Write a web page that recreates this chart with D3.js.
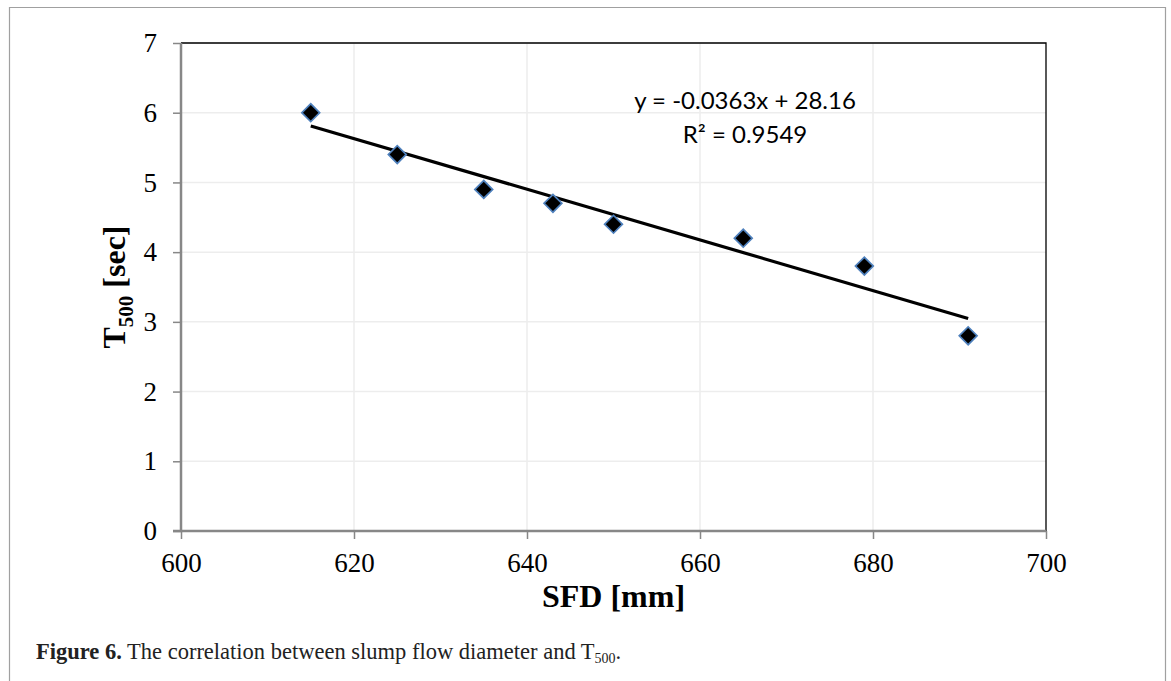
<!DOCTYPE html>
<html><head><meta charset="utf-8">
<script src="https://cdn.jsdelivr.net/npm/d3@7"></script>
<style>body{margin:0;background:#fff}svg{display:block}</style>
</head><body>
<svg id="c" width="1171" height="681"></svg>
<script>
const sfd = [615, 625, 635, 643, 650, 665, 679, 691];
const t500 = [6.0, 5.4, 4.9, 4.7, 4.4, 4.2, 3.8, 2.8];
const xTicks = [600, 620, 640, 660, 680, 700];
const yTicks = [0, 1, 2, 3, 4, 5, 6, 7];
const eqLabel = "y = -0.0363x + 28.16";
const r2Label = "R² = 0.9549";

const svg = d3.select("#c");
const L = 181, R = 1046, T = 43, B = 531;
const x = d3.scaleLinear().domain([600, 700]).range([L, R]);
const y = d3.scaleLinear().domain([0, 7]).range([B, T]);

// outer frame (open at the bottom)
svg.append("path").attr("d", `M9.5,681 V7.5 H1165.5 V681`).attr("fill", "none").attr("stroke", "#a0a0a0").attr("stroke-width", 1.2);

// gridlines
svg.append("g").selectAll("line").data(yTicks.slice(1)).join("line")
  .attr("x1", L).attr("x2", R).attr("y1", d => y(d)).attr("y2", d => y(d))
  .attr("stroke", "#ededed").attr("stroke-width", 1.5);
svg.append("g").selectAll("line").data(xTicks.slice(1, -1)).join("line")
  .attr("y1", T).attr("y2", B).attr("x1", d => x(d)).attr("x2", d => x(d))
  .attr("stroke", "#ededed").attr("stroke-width", 1.5);

// top & right border
svg.append("path").attr("d", `M${L},${T} H${R} V${B}`).attr("fill", "none").attr("stroke", "#000").attr("stroke-width", 1.3);

// axes
const yAx = svg.append("g").attr("transform", `translate(${L},0)`)
  .call(d3.axisLeft(y).tickValues(yTicks).tickSize(8).tickPadding(16).tickFormat(d3.format("d")));
const xAx = svg.append("g").attr("transform", `translate(0,${B})`)
  .call(d3.axisBottom(x).tickValues(xTicks).tickSize(8).tickPadding(14).tickFormat(d3.format("d")));
[yAx, xAx].forEach(g => {
  g.select(".domain").attr("stroke", "#878787").attr("stroke-width", 2.5);
  g.selectAll(".tick line").attr("stroke", "#878787").attr("stroke-width", 1.5);
  g.selectAll(".tick text").attr("font-family", "Liberation Serif").attr("font-size", 27).attr("fill", "#000");
});
yAx.select(".domain").attr("d", `M-8,${B}H0V${T}`);
xAx.select(".domain").attr("d", `M${L},0H${R}`);
xAx.selectAll(".tick text").attr("dy", "0.71em");

// regression
const mx = d3.mean(sfd), my = d3.mean(t500);
const slope = d3.sum(sfd, (v, i) => (v - mx) * (t500[i] - my)) / d3.sum(sfd, v => (v - mx) ** 2);
const icpt = my - slope * mx;
const xr = d3.extent(sfd);
svg.append("line")
  .attr("x1", x(xr[0])).attr("y1", y(slope * xr[0] + icpt))
  .attr("x2", x(xr[1])).attr("y2", y(slope * xr[1] + icpt))
  .attr("stroke", "#000").attr("stroke-width", 3.2);

// markers
svg.append("g").selectAll("path").data(sfd).join("path")
  .attr("transform", (d, i) => `translate(${x(d)},${y(t500[i])}) rotate(45)`)
  .attr("d", "M-6.3,-6.3H6.3V6.3H-6.3Z")
  .attr("fill", "#000").attr("stroke", "#4f81bd").attr("stroke-width", 1.7);

// equation
const eq = svg.append("g").attr("font-family", "Lato").attr("font-size", 24).attr("text-anchor", "middle").attr("fill", "#000");
eq.append("text").attr("x", 745).attr("y", 109).text(eqLabel);
eq.append("text").attr("x", 745).attr("y", 143).text(r2Label);

// axis titles
svg.append("text").attr("x", (L + R) / 2).attr("y", 607).attr("text-anchor", "middle")
  .attr("font-family", "Liberation Serif").attr("font-weight", "bold").attr("font-size", 32).text("SFD [mm]");
const yt = svg.append("text").attr("transform", `translate(125,${(T + B) / 2}) rotate(-90)`).attr("text-anchor", "middle")
  .attr("font-family", "Liberation Serif").attr("font-weight", "bold").attr("font-size", 32);
yt.append("tspan").text("T");
yt.append("tspan").attr("font-size", 21).attr("dy", 8).text("500");
yt.append("tspan").attr("dy", -8).text(" [sec]");

// caption
const cap = svg.append("text").attr("x", 36).attr("y", 659).attr("font-family", "Liberation Serif").attr("font-size", 22.5).attr("fill", "#222");
cap.append("tspan").attr("font-weight", "bold").text("Figure 6.");
cap.append("tspan").text(" The correlation between slump flow diameter and T");
cap.append("tspan").attr("font-size", 14).attr("dy", 4).text("500");
cap.append("tspan").attr("dy", -4).text(".");
</script>
</body></html>
